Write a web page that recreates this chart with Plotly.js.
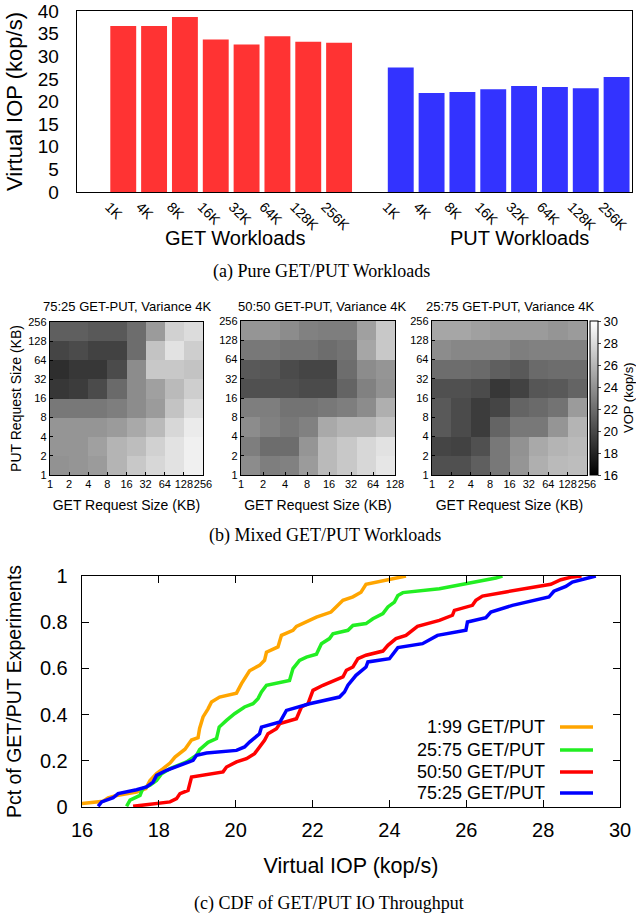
<!DOCTYPE html>
<html><head><meta charset="utf-8">
<script src="https://cdn.plot.ly/plotly-3.0.1.min.js"></script>
<style>html,body{margin:0;padding:0;background:#fff}#plot{width:636px;height:915px}</style>
</head><body><div id="plot"></div>
<script>
// ---------- (a) bar chart data ----------
const sizeLabels = ['1K','4K','8K','16K','32K','64K','128K','256K'];
const getIOP = [36.7, 36.7, 38.7, 33.7, 32.6, 34.4, 33.2, 33.0];
const putIOP = [27.5, 21.9, 22.1, 22.7, 23.4, 23.2, 22.95, 25.4];

// ---------- (b) heatmap data (kop/s), rows bottom (PUT 1-2KB) -> top (PUT 128-256KB) ----------
const getLabels9 = ['1','2','4','8','16','32','64','128','256'];
const getLabels8 = ['1','2','4','8','16','32','64','128'];
const putLabels = ['1','2','4','8','16','32','64','128','256'];
const mix7525 = [
  [24.0,24.2,24.5,25.9,27.0,27.8,28.4,29.2],
  [24.2,24.2,24.8,25.9,26.4,27.5,28.4,29.2],
  [24.2,24.2,24.2,24.5,25.3,26.2,27.8,28.9],
  [22.6,22.6,22.6,22.9,23.7,24.5,26.7,28.1],
  [19.0,19.3,20.1,21.8,23.7,24.8,26.2,27.3],
  [18.5,19.0,19.0,20.1,23.7,27.0,27.0,26.7],
  [19.8,20.1,19.6,19.6,22.0,26.7,28.4,27.3],
  [21.2,21.2,20.9,20.9,22.0,24.5,27.5,28.1]
];
const mix5050 = [
  [23.7,22.9,23.1,24.5,26.2,27.0,27.8,28.6],
  [22.9,22.0,22.0,24.2,26.2,27.0,27.8,28.4],
  [23.7,23.1,22.6,23.1,25.3,25.9,25.9,26.7],
  [22.9,22.9,22.3,22.3,22.6,22.9,23.7,25.6],
  [20.4,20.4,20.4,20.1,20.1,21.5,23.1,24.0],
  [20.9,20.7,20.1,19.8,19.8,22.0,23.7,24.2],
  [22.6,22.6,22.3,22.3,22.0,22.3,25.1,27.0],
  [24.2,24.2,23.7,23.1,22.9,22.9,24.8,27.0]
];
const mix2575 = [
  [20.4,20.4,21.2,22.6,24.2,25.6,26.2,26.4],
  [19.8,19.6,20.4,22.6,24.0,25.3,25.9,26.2],
  [20.9,20.1,19.3,21.5,22.6,22.6,24.2,25.9],
  [20.9,20.1,19.3,19.8,21.5,21.8,22.3,24.5],
  [20.4,20.4,20.1,19.0,19.6,20.7,20.9,21.5],
  [22.0,22.0,21.8,21.2,20.9,21.8,22.0,22.0],
  [23.7,23.4,23.4,23.4,22.9,23.1,23.1,23.1],
  [25.1,25.1,24.8,24.5,24.5,24.5,24.2,24.5]
];

// ---------- (c) CDF data ----------
const cdf199X = [16.0,16.55,16.68,16.9,17.42,17.66,17.77,17.94,18.11,18.29,18.42,18.68,18.85,19.02,19.06,19.15,19.28,19.37,19.58,20.02,20.15,20.36,20.62,20.75,20.8,21.1,21.19,21.49,21.58,22.1,22.48,22.79,23.05,23.26,23.39,23.83,24.13,24.43];
const cdf199Y = [0.015,0.025,0.04,0.05,0.065,0.08,0.115,0.145,0.166,0.19,0.216,0.25,0.29,0.30,0.34,0.39,0.425,0.455,0.476,0.493,0.534,0.59,0.613,0.635,0.67,0.693,0.743,0.765,0.782,0.822,0.844,0.895,0.91,0.93,0.964,0.978,0.988,1.0];
const cdf2575X = [17.16,17.25,17.51,17.58,17.77,17.94,18.07,18.29,18.72,18.98,19.06,19.28,19.5,19.57,19.76,19.97,20.23,20.45,20.58,20.67,20.8,21.4,21.49,21.66,21.84,22.1,22.23,22.44,22.53,22.92,23.05,23.39,23.57,23.83,23.96,24.13,24.22,24.35,25.3,25.99,26.51,26.77,26.94];
const cdf2575Y = [0.003,0.03,0.05,0.08,0.094,0.115,0.144,0.166,0.195,0.224,0.248,0.28,0.296,0.346,0.375,0.404,0.433,0.447,0.469,0.498,0.527,0.548,0.599,0.635,0.649,0.661,0.707,0.729,0.75,0.765,0.786,0.794,0.815,0.837,0.866,0.887,0.916,0.928,0.945,0.967,0.981,0.991,1.0];
const cdf5050X = [17.33,18.29,18.46,18.55,18.76,18.85,19.67,19.76,20.02,20.28,20.49,20.62,20.75,20.84,21.06,21.15,21.41,21.58,21.71,21.88,22.01,22.27,22.79,22.88,23.05,23.18,23.39,23.83,23.96,24.17,24.43,24.73,25.3,25.64,25.69,26.16,26.25,26.42,27.03,27.89,28.2,28.46,28.76,29.0];
const cdf5050Y = [0.003,0.022,0.036,0.058,0.072,0.13,0.152,0.173,0.195,0.209,0.231,0.26,0.289,0.317,0.339,0.361,0.375,0.382,0.433,0.447,0.505,0.527,0.563,0.592,0.606,0.642,0.657,0.675,0.70,0.729,0.743,0.782,0.808,0.83,0.851,0.873,0.895,0.913,0.931,0.955,0.964,0.984,0.996,1.0];
const cdf7525X = [16.42,16.51,16.81,16.94,17.42,17.68,17.85,17.94,18.2,18.55,18.89,18.98,19.24,20.02,20.23,20.36,20.62,20.67,21.15,21.32,21.92,22.7,22.83,22.92,23.13,23.39,23.44,24.0,24.22,24.86,25.25,25.99,26.03,26.51,26.64,27.2,28.15,28.28,28.59,28.76,29.11,29.37];
const cdf7525Y = [0.003,0.022,0.04,0.058,0.075,0.087,0.108,0.137,0.159,0.18,0.202,0.224,0.234,0.245,0.26,0.281,0.317,0.346,0.368,0.418,0.447,0.476,0.498,0.527,0.57,0.606,0.628,0.642,0.69,0.707,0.743,0.765,0.801,0.82,0.844,0.873,0.909,0.934,0.955,0.974,0.988,1.0];
const seriesNames = ['1:99 GET/PUT','25:75 GET/PUT','50:50 GET/PUT','75:25 GET/PUT'];
const seriesColors = ['#ffa500','#22ee22','#ff0000','#0000ff'];

// ---------- layout helpers ----------
const W = 636, H = 915;
const px = v => v / W;
const py = v => 1 - v / H;
const SANS = 'Liberation Sans, Arial, Helvetica, sans-serif';
const SERIF = 'Liberation Serif, Times New Roman, serif';
const frame = {showline:true, mirror:true, linecolor:'#000', linewidth:1.3, showgrid:false, zeroline:false, ticklabeloverflow:'allow'};

const traces = [];
traces.push({type:'bar', x:getIOP.map((_, i) => i), y:getIOP, width:0.84,
  marker:{color:'#ff3333', line:{width:0}}, xaxis:'x', yaxis:'y', showlegend:false, hoverinfo:'skip'});
traces.push({type:'bar', x:putIOP.map((_, i) => i + 9), y:putIOP, width:0.84,
  marker:{color:'#3333ff', line:{width:0}}, xaxis:'x', yaxis:'y', showlegend:false, hoverinfo:'skip'});

const cells = Array.from({length:8}, (_, i) => i + 0.5);
[[mix7525,'x2','y3'],[mix5050,'x3','y4'],[mix2575,'x4','y5']].forEach(([z, xa, ya]) => {
  traces.push({type:'heatmap', x:cells, y:cells, z:z, coloraxis:'coloraxis', xaxis:xa, yaxis:ya, hoverinfo:'skip'});
});

const cdfX = [cdf199X, cdf2575X, cdf5050X, cdf7525X];
const cdfY = [cdf199Y, cdf2575Y, cdf5050Y, cdf7525Y];
cdfX.forEach((xs, k) => {
  traces.push({type:'scatter', mode:'lines', x:xs, y:cdfY[k], name:seriesNames[k],
    line:{color:seriesColors[k], width:3.5}, xaxis:'x5', yaxis:'y6', showlegend:false, hoverinfo:'skip'});
});

const hmX = (dom, anchor, labels, title) => Object.assign({}, frame, {
  domain:dom, anchor:anchor, range:[0,8],
  tickvals:labels.map((_, i) => i * 8 / (labels.length - 1)), ticktext:labels, tickangle:0,
  ticks:'inside', ticklen:3, tickcolor:'#000', tickfont:{size:11}, ticklabelstandoff:-2,
  title:{text:title, font:{size:14}, standoff:11}
});
const hmY = (dom, anchor, title) => Object.assign({}, frame, {
  domain:dom, anchor:anchor, range:[0,8],
  tickvals:putLabels.map((_, i) => i), ticktext:putLabels,
  ticks:'inside', ticklen:3, tickcolor:'#000', tickfont:{size:11},
  title:{text:title, font:{size:14}, standoff:3}
});

const annotations = [
  {text:'GET Workloads', x:px(235), y:py(238), font:{size:20}},
  {text:'PUT Workloads', x:px(519), y:py(238), font:{size:20}},
  {text:'(a) Pure GET/PUT Workloads', x:px(321), y:py(271), font:{size:18, family:SERIF}},
  {text:'75:25 GET-PUT, Variance 4K', x:px(127), y:py(306), font:{size:13}},
  {text:'50:50 GET-PUT, Variance 4K', x:px(322), y:py(306), font:{size:13}},
  {text:'25:75 GET-PUT, Variance 4K', x:px(510), y:py(306), font:{size:13}},
  {text:'VOP (kop/s)', x:px(628), y:py(398), textangle:-90, font:{size:13}},
  {text:'(b) Mixed GET/PUT Workloads', x:px(325), y:py(535), font:{size:18, family:SERIF}},
  {text:'(c) CDF of GET/PUT IO Throughput', x:px(329), y:py(903), font:{size:18, family:SERIF}}
].map(a => Object.assign({xref:'paper', yref:'paper', showarrow:false, xanchor:'center', yanchor:'middle'}, a));

const shapes = [];
const legRows = [727, 750, 772, 793];
seriesNames.forEach((n, k) => {
  annotations.push({text:n, xref:'paper', yref:'paper', x:px(547), y:py(legRows[k]), xanchor:'right', yanchor:'middle',
    showarrow:false, font:{size:18}});
  shapes.push({type:'line', xref:'paper', yref:'paper', x0:px(560), x1:px(593), y0:py(legRows[k]), y1:py(legRows[k]),
    line:{color:seriesColors[k], width:3.5}});
});

const layout = {
  width:W, height:H, margin:{l:0, r:0, t:0, b:0},
  paper_bgcolor:'#fff', plot_bgcolor:'#fff',
  font:{family:SANS, color:'#000'},
  barmode:'overlay', showlegend:false,
  xaxis: Object.assign({}, frame, {domain:[px(77), px(632)], anchor:'y', range:[-1.5, 16.5],
    tickvals:sizeLabels.map((_, i) => i).concat(sizeLabels.map((_, i) => i + 9)),
    ticktext:sizeLabels.concat(sizeLabels), tickangle:45, ticks:'', tickfont:{size:14}, ticklabelshift:-14}),
  yaxis: Object.assign({}, frame, {domain:[py(192), py(11)], anchor:'x', range:[0, 40], dtick:5, ticks:'',
    tickfont:{size:19}, ticklabelstandoff:13, title:{text:'Virtual IOP (kop/s)', font:{size:22}, standoff:9}}),
  yaxis2: {overlaying:'y', side:'right', anchor:'x', range:[0, 40], dtick:5, ticks:'inside', ticklen:7,
    tickcolor:'#000', showticklabels:false, showgrid:false, zeroline:false, showline:false},
  xaxis2: hmX([px(50), px(203)], 'y3', getLabels9, 'GET Request Size (KB)'),
  yaxis3: hmY([py(475), py(322)], 'x2', 'PUT Request Size (KB)'),
  xaxis3: hmX([px(241), px(395)], 'y4', getLabels8, 'GET Request Size (KB)'),
  yaxis4: hmY([py(475), py(321)], 'x3', ''),
  xaxis4: hmX([px(432), px(587)], 'y5', getLabels9, 'GET Request Size (KB)'),
  yaxis5: hmY([py(475), py(321)], 'x4', ''),
  coloraxis: {cmin:16, cmax:30, colorscale:[[0,'#000000'],[1,'#ffffff']],
    colorbar:{x:px(590), xanchor:'left', y:py(475), yanchor:'bottom', len:154/H, lenmode:'fraction',
      thickness:8, thicknessmode:'pixels', xpad:0, ypad:0, outlinewidth:1, outlinecolor:'#000',
      tickvals:[16,18,20,22,24,26,28,30], ticks:'outside', ticklen:3, tickfont:{size:13}}},
  xaxis5: Object.assign({}, frame, {domain:[px(82), px(620)], anchor:'y6', range:[16, 30], dtick:2,
    mirror:'ticks', ticks:'inside', ticklen:7, tickcolor:'#000', tickfont:{size:20}, ticklabelstandoff:5,
    title:{text:'Virtual IOP (kop/s)', font:{size:21.5}, standoff:17}}),
  yaxis6: Object.assign({}, frame, {domain:[py(807), py(576)], anchor:'x5', range:[0, 1], dtick:0.2,
    mirror:'ticks', ticks:'inside', ticklen:7, tickcolor:'#000', tickfont:{size:20}, ticklabelstandoff:9,
    title:{text:'Pct of GET/PUT Experiments', font:{size:19.5}, standoff:13}}),
  annotations: annotations,
  shapes: shapes
};

Plotly.newPlot('plot', traces, layout, {staticPlot:true, displayModeBar:false});
</script></body></html>
